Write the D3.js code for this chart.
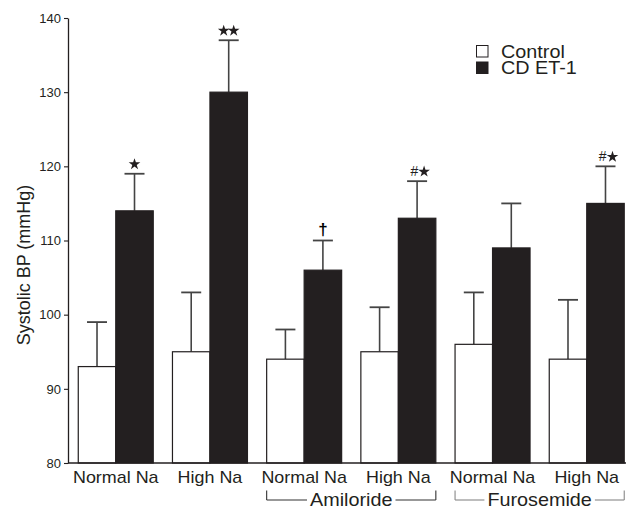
<!DOCTYPE html>
<html>
<head>
<meta charset="utf-8">
<script src="https://cdn.jsdelivr.net/npm/d3@7"></script>
<style>
  body { margin: 0; background: #fff; }
  svg { display: block; font-family: "Liberation Sans", Arial, Helvetica, sans-serif; }
</style>
</head>
<body>
<script>
// chart data
var groups = ["g1", "g2", "g3", "g4", "g5", "g6"];
var groupLabels = ["Normal Na", "High Na", "Normal Na", "High Na", "Normal Na", "High Na"];
var series = ["Control", "CD ET-1"];
var controlMean = [93, 95, 94, 95, 96, 94];
var controlErr = [6, 8, 4, 6, 7, 8];
var et1Mean = [114, 130, 106, 113, 109, 115];
var et1Err = [5, 7, 4, 5, 6, 5];
var marks = ["*", "**", "†", "#*", "", "#*"];
var yTicks = [80, 90, 100, 110, 120, 130, 140];
var brackets = [
    { label: "Amiloride", from: "g3", to: "g4", color: "#333" },
    { label: "Furosemide", from: "g5", to: "g6", color: "#888" }
];

var svgWidth = 626;
var svgHeight = 508;
var ink = "#231f20";

var svg = d3.select("body")
    .append("svg")
    .attr("width", svgWidth)
    .attr("height", svgHeight);

var axisX = 68;
var baseY = 463;

var y = d3.scaleLinear().domain([80, 140]).range([baseY, 18]);

var x0 = d3.scaleBand()
    .domain(groups)
    .range([axisX, 634.5])
    .paddingInner(0.204)
    .paddingOuter(0.109);

var x1 = d3.scaleBand()
    .domain(series)
    .range([0, x0.bandwidth()]);

var rows = groups.map(function (g, i) {
    return {
        group: g,
        label: groupLabels[i],
        mark: marks[i],
        bars: [
            { key: "Control", mean: controlMean[i], err: controlErr[i] },
            { key: "CD ET-1", mean: et1Mean[i], err: et1Err[i] }
        ]
    };
});

// y axis
var yAxis = svg.append("g")
    .attr("transform", `translate(${axisX},0)`)
    .call(d3.axisLeft(y).tickValues(yTicks).tickSize(4).tickSizeOuter(0).tickPadding(3));
yAxis.select(".domain").attr("stroke", ink).attr("stroke-width", 1.3);
yAxis.selectAll(".tick line").attr("stroke", ink).attr("stroke-width", 1.1);
yAxis.selectAll(".tick text")
    .attr("fill", ink)
    .style("font-size", "13px")
    .style("font-family", "Liberation Sans, Arial, sans-serif");

svg.append("text")
    .attr("transform", "translate(29.5,265) rotate(-90)")
    .attr("text-anchor", "middle")
    .attr("fill", ink)
    .style("font-size", "18px")
    .text("Systolic BP (mmHg)");

// bars
var groupSel = svg.selectAll(".grp")
    .data(rows)
    .enter()
    .append("g")
    .attr("class", "grp")
    .attr("transform", d => `translate(${x0(d.group)},0)`);

// error bars first so that the bar covers the lower whisker
groupSel.selectAll(".err")
    .data(d => d.bars)
    .enter()
    .append("g")
    .attr("class", "err")
    .each(function (d) {
        var g = d3.select(this);
        var cx = x1(d.key) + x1.bandwidth() / 2;
        g.append("line")
            .attr("x1", cx).attr("x2", cx)
            .attr("y1", y(d.mean)).attr("y2", y(d.mean + d.err))
            .attr("stroke", "#444").attr("stroke-width", 1.6);
        g.append("line")
            .attr("x1", cx - 10).attr("x2", cx + 10)
            .attr("y1", y(d.mean + d.err)).attr("y2", y(d.mean + d.err))
            .attr("stroke", "#444").attr("stroke-width", 1.8);
    });

groupSel.selectAll("rect")
    .data(d => d.bars)
    .enter()
    .append("rect")
    .attr("x", d => x1(d.key))
    .attr("y", d => y(d.mean))
    .attr("width", x1.bandwidth())
    .attr("height", d => baseY - y(d.mean))
    .attr("fill", d => d.key === "Control" ? "#fff" : ink)
    .attr("stroke", ink)
    .attr("stroke-width", 1.2);

// significance marks above the CD ET-1 error caps
var star = d3.symbol().type(d3.symbolStar).size(42);
groupSel.each(function (d) {
    if (!d.mark) return;
    var g = d3.select(this);
    var b = d.bars[1];
    var cx = x1(b.key) + x1.bandwidth() / 2;
    var top = y(b.mean + b.err);
    if (d.mark === "†") {
        g.append("text")
            .attr("x", cx).attr("y", top - 5.5)
            .attr("text-anchor", "middle")
            .attr("fill", "#000")
            .style("font-size", "17px")
            .style("font-weight", "bold")
            .text("†");
        return;
    }
    var chars = d.mark.split("");
    var step = 10;
    var start = cx - (chars.length - 1) * step / 2 + (d.mark[0] === "#" ? 2 : 0);
    chars.forEach(function (c, k) {
        var px = start + k * step;
        if (c === "*") {
            g.append("path")
                .attr("d", star)
                .attr("transform", `translate(${px},${top - 9.5})`)
                .attr("fill", ink);
        } else {
            g.append("text")
                .attr("x", px).attr("y", top - 5)
                .attr("text-anchor", "middle")
                .attr("fill", ink)
                .style("font-size", "14px")
                .style("font-style", "italic")
                .text(c);
        }
    });
});

// x baseline
svg.append("line")
    .attr("x1", axisX).attr("x2", svgWidth)
    .attr("y1", baseY).attr("y2", baseY)
    .attr("stroke", ink).attr("stroke-width", 1.3);

// category labels
svg.selectAll(".cat")
    .data(rows)
    .enter()
    .append("text")
    .attr("class", "cat")
    .attr("transform", d => `translate(${x0(d.group) + x0.bandwidth() / 2},482.5) scale(1.12,1)`)
    .attr("text-anchor", "middle")
    .attr("fill", ink)
    .style("font-size", "16px")
    .text(d => d.label);

// treatment brackets
brackets.forEach(function (b) {
    var left = x0(b.from);
    var right = x0(b.to) + x0.bandwidth();
    var mid = (left + right) / 2;
    var sx = 1.1;
    var t = svg.append("text")
        .attr("transform", `translate(${mid},505.5) scale(${sx},1)`)
        .attr("text-anchor", "middle")
        .attr("fill", ink)
        .style("font-size", "18px")
        .text(b.label);
    var w = t.node().getComputedTextLength() * sx;
    var gap = 3;
    var lines = [
        [left, 490.5, left, 500],
        [left, 500, mid - w / 2 - gap, 500],
        [mid + w / 2 + gap, 500, right, 500],
        [right, 500, right, 490.5]
    ];
    svg.selectAll(null)
        .data(lines)
        .enter()
        .append("line")
        .attr("x1", d => d[0]).attr("y1", d => d[1])
        .attr("x2", d => d[2]).attr("y2", d => d[3])
        .attr("stroke", b.color)
        .attr("stroke-width", 1.1);
});

// legend
var legend = svg.append("g").attr("transform", "translate(476,45)");
series.forEach(function (s, i) {
    var row = legend.append("g").attr("transform", `translate(0,${i * 16.5})`);
    row.append("rect")
        .attr("x", 0.5).attr("y", 0.5)
        .attr("width", 11.5).attr("height", 11.5)
        .attr("fill", i === 0 ? "#fff" : ink)
        .attr("stroke", ink)
        .attr("stroke-width", 1);
    row.append("text")
        .attr("transform", "translate(25,12.5) scale(1.1,1)")
        .attr("fill", ink)
        .style("font-size", "18px")
        .text(s);
});
</script>
</body>
</html>
